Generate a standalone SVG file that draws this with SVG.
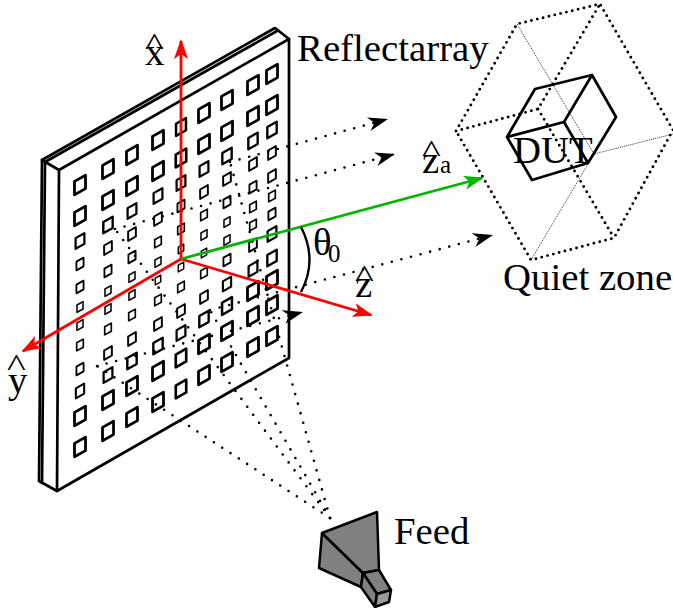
<svg xmlns="http://www.w3.org/2000/svg" xmlns:xlink="http://www.w3.org/1999/xlink" width="673" height="608" viewBox="0 0 673 608">
<style>
text{font-family:"Liberation Serif","Times New Roman",serif;font-size:38.8px;fill:#000}
.sub{font-size:25px}
.hat{font-size:32px}
.e{fill:none;stroke:#000;stroke-width:2.7;stroke-linejoin:round;stroke-linecap:round}
.d{fill:none;stroke:#000;stroke-width:2.6;stroke-linecap:round;stroke-dasharray:0 9.9}
.q{fill:none;stroke:#000;stroke-width:2.9;stroke-linecap:round;stroke-dasharray:0 6}
.t{fill:none;stroke:#333;stroke-width:1;stroke-dasharray:1 1}
.k{marker-end:url(#ka)}
.r{fill:none;stroke:#f00;stroke-width:2.8;marker-end:url(#ra)}
.g{fill:none;stroke:#00b400;stroke-width:2.8;marker-end:url(#ga)}
.h{fill:#808080;stroke:#000;stroke-width:2.5;stroke-linejoin:round}
</style>
<defs>
<path id="p" d="M-5.5-3.6L5.5-9.8V3.6L-5.5 9.8Z" fill="#fff" stroke="#000" stroke-width="2.8" stroke-linejoin="round"/>
<marker id="ka" markerUnits="userSpaceOnUse" markerWidth="22" markerHeight="16" refX="20" refY="7" orient="auto"><path d="M20 7L0 0L6 7L0 14Z" fill="#000"/></marker>
<marker id="ra" markerUnits="userSpaceOnUse" markerWidth="22" markerHeight="16" refX="18" refY="7" orient="auto"><path d="M20 7L0 0L5 7L0 14Z" fill="#f00"/></marker>
<marker id="ga" markerUnits="userSpaceOnUse" markerWidth="22" markerHeight="16" refX="18" refY="7" orient="auto"><path d="M20 7L0 0L5 7L0 14Z" fill="#00b400"/></marker>
</defs>
<g id="reflectarray">
<path class="e" d="M42 160L275 28L289 39V358L57 491L39 481Z" style="fill:#fff"/>
<path class="e" d="M42 160L59 170L289 39M45 162L277 31M59 170L57 491M45 162L42 483"/>
<g id="patches">
<use href="#p" transform="translate(80 185)"/><use href="#p" transform="translate(108 169)"/><use href="#p" transform="translate(132 155)"/><use href="#p" transform="translate(158 140)"/><use href="#p" transform="translate(181 127)scale(.9)"/><use href="#p" transform="translate(204 113)"/><use href="#p" transform="translate(227 100)"/><use href="#p" transform="translate(253 85)"/><use href="#p" transform="translate(272 74)"/>
<use href="#p" transform="translate(80 216)"/><use href="#p" transform="translate(108 200)"/><use href="#p" transform="translate(132 186)"/><use href="#p" transform="translate(158 171)"/><use href="#p" transform="translate(181 158)scale(.95)"/><use href="#p" transform="translate(204 144)"/><use href="#p" transform="translate(227 131)"/><use href="#p" transform="translate(253 116)"/><use href="#p" transform="translate(272 105)"/>
<use href="#p" transform="translate(80 241)scale(.8)"/><use href="#p" transform="translate(108 225)scale(.85)"/><use href="#p" transform="translate(132 211)scale(.8)"/><use href="#p" transform="translate(158 196)scale(.8)"/><use href="#p" transform="translate(181 183)scale(.8)"/><use href="#p" transform="translate(204 169)scale(.8)"/><use href="#p" transform="translate(227 156)scale(.85)"/><use href="#p" transform="translate(253 141)scale(.85)"/><use href="#p" transform="translate(272 130)scale(.85)"/>
<use href="#p" transform="translate(80 264)scale(.65)"/><use href="#p" transform="translate(108 248)scale(.7)"/><use href="#p" transform="translate(132 234)scale(.7)"/><use href="#p" transform="translate(158 219)scale(.7)"/><use href="#p" transform="translate(181 206)scale(.65)"/><use href="#p" transform="translate(204 192)scale(.7)"/><use href="#p" transform="translate(227 179)scale(.7)"/><use href="#p" transform="translate(253 164)scale(.7)"/><use href="#p" transform="translate(272 153)scale(.7)"/>
<use href="#p" transform="translate(80 287)scale(.65)"/><use href="#p" transform="translate(108 271)scale(.65)"/><use href="#p" transform="translate(132 257)scale(.65)"/><use href="#p" transform="translate(158 242)scale(.6)"/><use href="#p" transform="translate(181 229)scale(.6)"/><use href="#p" transform="translate(204 215)scale(.6)"/><use href="#p" transform="translate(227 202)scale(.65)"/><use href="#p" transform="translate(253 187)scale(.65)"/><use href="#p" transform="translate(272 176)scale(.7)"/>
<use href="#p" transform="translate(80 307)scale(.55)"/><use href="#p" transform="translate(108 291)scale(.55)"/><use href="#p" transform="translate(132 277)scale(.55)"/><use href="#p" transform="translate(158 262)scale(.55)"/><use href="#p" transform="translate(181 249)scale(.5)"/><use href="#p" transform="translate(204 235)scale(.55)"/><use href="#p" transform="translate(227 222)scale(.55)"/><use href="#p" transform="translate(253 207)scale(.6)"/><use href="#p" transform="translate(272 196)scale(.6)"/>
<use href="#p" transform="translate(80 325)scale(.55)"/><use href="#p" transform="translate(108 309)scale(.55)"/><use href="#p" transform="translate(132 295)scale(.55)"/><use href="#p" transform="translate(158 280)scale(.5)"/><use href="#p" transform="translate(181 267)scale(.5)"/><use href="#p" transform="translate(204 253)scale(.5)"/><use href="#p" transform="translate(227 240)scale(.55)"/><use href="#p" transform="translate(253 225)scale(.6)"/><use href="#p" transform="translate(272 214)scale(.65)"/>
<use href="#p" transform="translate(80 345)scale(.6)"/><use href="#p" transform="translate(108 329)scale(.6)"/><use href="#p" transform="translate(132 315)scale(.6)"/><use href="#p" transform="translate(158 300)scale(.6)"/><use href="#p" transform="translate(181 287)scale(.6)"/><use href="#p" transform="translate(204 273)scale(.6)"/><use href="#p" transform="translate(227 260)scale(.65)"/><use href="#p" transform="translate(253 245)scale(.7)"/><use href="#p" transform="translate(272 234)scale(.8)"/>
<use href="#p" transform="translate(80 369)scale(.65)"/><use href="#p" transform="translate(108 353)scale(.7)"/><use href="#p" transform="translate(132 339)scale(.7)"/><use href="#p" transform="translate(158 324)scale(.7)"/><use href="#p" transform="translate(181 311)scale(.7)"/><use href="#p" transform="translate(204 297)scale(.7)"/><use href="#p" transform="translate(227 284)scale(.75)"/><use href="#p" transform="translate(253 269)scale(.8)"/><use href="#p" transform="translate(272 258)scale(.85)"/>
<use href="#p" transform="translate(80 391)scale(.75)"/><use href="#p" transform="translate(108 375)scale(.8)"/><use href="#p" transform="translate(132 361)scale(.85)"/><use href="#p" transform="translate(158 346)scale(.85)"/><use href="#p" transform="translate(181 333)scale(.8)"/><use href="#p" transform="translate(204 319)scale(.85)"/><use href="#p" transform="translate(227 306)scale(.9)"/><use href="#p" transform="translate(253 291)"/><use href="#p" transform="translate(272 280)"/>
<use href="#p" transform="translate(80 416)"/><use href="#p" transform="translate(108 400)"/><use href="#p" transform="translate(132 386)"/><use href="#p" transform="translate(158 371)"/><use href="#p" transform="translate(181 358)scale(.95)"/><use href="#p" transform="translate(204 344)"/><use href="#p" transform="translate(227 331)"/><use href="#p" transform="translate(253 316)"/><use href="#p" transform="translate(272 305)"/>
<use href="#p" transform="translate(80 447)"/><use href="#p" transform="translate(108 431)"/><use href="#p" transform="translate(132 417)"/><use href="#p" transform="translate(158 402)"/><use href="#p" transform="translate(181 389)scale(.95)"/><use href="#p" transform="translate(204 375)"/><use href="#p" transform="translate(227 362)"/><use href="#p" transform="translate(253 347)"/><use href="#p" transform="translate(272 336)"/>
</g>
<text x="297" y="61">Reflectarray</text>
</g>
<g id="quiet-zone">
<path class="t" d="M517 24L594 154L673 134M594 154L531 260"/>
<path class="q" d="M456 131L517 24L600 4L673 130L614 238L531 260ZM456 131L538 109L600 4M538 109L614 238"/>
<text x="503" y="290">Quiet zone</text>
</g>
<g id="dut">
<path class="e" d="M507 137L535 89L592 75L616 117L588 163L532 180ZM507 137L564 122L592 75M564 122L588 163"/>
<text x="513" y="163">DUT</text>
</g>
<g id="feed">
<path class="h" d="M322 533L363 573L361 587L319 568Z"/>
<path class="h" d="M322 533L377 512L379 570L363 573Z"/>
<path class="h" d="M363 573L379 570L391 590L377 594Z"/>
<path class="h" d="M363 573L377 594L375 607L361 587Z"/>
<path class="h" d="M377 594L391 590L389 602L375 607Z" style="fill:#999"/>
<text x="394" y="544">Feed</text>
</g>
<g id="connectors">
<path class="d" d="M330 518L97 366"/>
<path class="d" d="M330 518L115 229"/>
<path class="d" d="M330 518L210 310"/>
<path class="d" d="M330 518L230 162"/>
<path class="d k" d="M97 366L303 312"/>
<path class="d k" d="M115 229L395 154"/>
<path class="d k" d="M210 310L493 235"/>
<path class="d k" d="M230 162L388 119"/>
<path class="r" d="M181 259V41"/>
<path class="r" d="M181 259L23 351"/>
<path class="r" d="M181 259L371 315"/>
<path class="g" d="M181 259L482 178"/>
<path d="M301 227Q318 260 301 292" fill="none" stroke="#000" stroke-width="2.4"/>
</g>
<g id="axis-labels">
<text x="145" y="65">x</text><text class="hat" transform="translate(145 55)scale(1.25 1)">^</text>
<text x="8" y="393">y</text><text class="hat" transform="translate(7 376)scale(1.25 1)">^</text>
<text x="355" y="297">z</text><text class="hat" transform="translate(355 287)scale(1.25 1)">^</text>
<text x="422" y="173">z</text><text class="sub" x="440" y="173">a</text><text class="hat" transform="translate(422 162)scale(1.25 1)">^</text>
<text x="313" y="255">θ</text><text class="sub" x="328" y="262">0</text>
</g>
</svg>
